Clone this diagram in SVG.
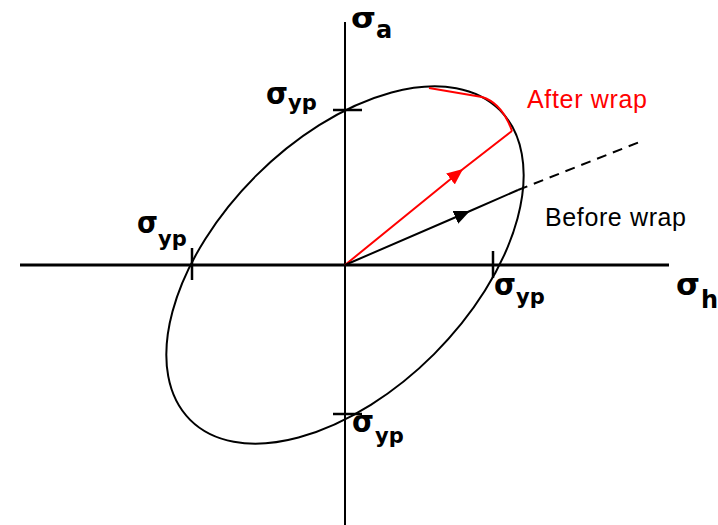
<svg xmlns="http://www.w3.org/2000/svg" width="718" height="525" viewBox="0 0 718 525">
<defs>
<style>
.ax{stroke:#000;fill:none}
.sig{font-family:"DejaVu Sans","Liberation Sans",sans-serif;font-weight:bold;font-size:30px;fill:#000}
.sub{font-family:"DejaVu Sans","Liberation Sans",sans-serif;font-weight:bold;font-size:21px;fill:#000}
.lbl{font-family:"Liberation Sans",Arial,sans-serif;font-size:25px}
</style>
<marker id="ahk" viewBox="0 0 16 14" refX="16" refY="7" markerWidth="16" markerHeight="14" markerUnits="userSpaceOnUse" orient="auto"><path d="M0,0 L16,7 L0,14 Z" fill="#000"/></marker>
<marker id="ahr" viewBox="0 0 16 14" refX="16" refY="7" markerWidth="16" markerHeight="14" markerUnits="userSpaceOnUse" orient="auto"><path d="M0,0 L16,7 L0,14 Z" fill="#f00"/></marker>
</defs>
<rect width="718" height="525" fill="#fff"/>
<g id="axes">
<line class="ax" x1="20" y1="265" x2="669" y2="265" stroke-width="3"/>
<line class="ax" x1="345" y1="22" x2="345" y2="525" stroke-width="2"/>
</g>
<g id="ellipse">
<ellipse cx="345" cy="265" rx="219" ry="126" transform="rotate(-45 345 265)" fill="none" stroke="#000" stroke-width="2"/>
</g>
<g id="ticks" class="ax" stroke-width="2.5">
<line x1="333" y1="110" x2="362" y2="110"/>
<line x1="333" y1="414" x2="362" y2="414"/>
<line x1="192" y1="248" x2="192" y2="280"/>
<line x1="493" y1="251" x2="493" y2="278"/>
</g>
<g id="connectors">
<path d="M345,265 L463,169 L512,131" fill="none" stroke="#f00" stroke-width="2" marker-mid="url(#ahr)"/>
<path d="M429,88 L482,97 Q502,103 512,131" fill="none" stroke="#f00" stroke-width="2"/>
<path d="M345,265 L470,211 L518,190" fill="none" stroke="#000" stroke-width="2" marker-mid="url(#ahk)"/>
<line x1="518" y1="190" x2="642" y2="141" stroke="#000" stroke-width="2" stroke-dasharray="10,7"/>
</g>
<g id="label-sa"><text class="sig" x="351" y="28" textLength="25" lengthAdjust="spacingAndGlyphs" style="font-size:28px">σ</text><text class="sub" x="376" y="38" style="font-size:24px">a</text></g>
<g id="label-yp-top"><text class="sig" x="266" y="104" textLength="22" lengthAdjust="spacingAndGlyphs">σ</text><text class="sub" x="288" y="110">yp</text></g>
<g id="label-yp-left"><text class="sig" x="137" y="233" textLength="21" lengthAdjust="spacingAndGlyphs">σ</text><text class="sub" x="158" y="246">yp</text></g>
<g id="label-yp-right"><text class="sig" x="494" y="295" textLength="22" lengthAdjust="spacingAndGlyphs">σ</text><text class="sub" x="516" y="304">yp</text></g>
<g id="label-yp-bottom"><text class="sig" x="352" y="432" textLength="22" lengthAdjust="spacingAndGlyphs">σ</text><text class="sub" x="375" y="443">yp</text></g>
<g id="label-sh"><text class="sig" x="676" y="295" textLength="24" lengthAdjust="spacingAndGlyphs">σ</text><text class="sub" x="701" y="308" style="font-size:24px">h</text></g>
<g id="label-after"><text class="lbl" x="527" y="108" fill="#f00" textLength="120">After wrap</text></g>
<g id="label-before"><text class="lbl" x="545" y="226" fill="#000" textLength="141">Before wrap</text></g>
</svg>
